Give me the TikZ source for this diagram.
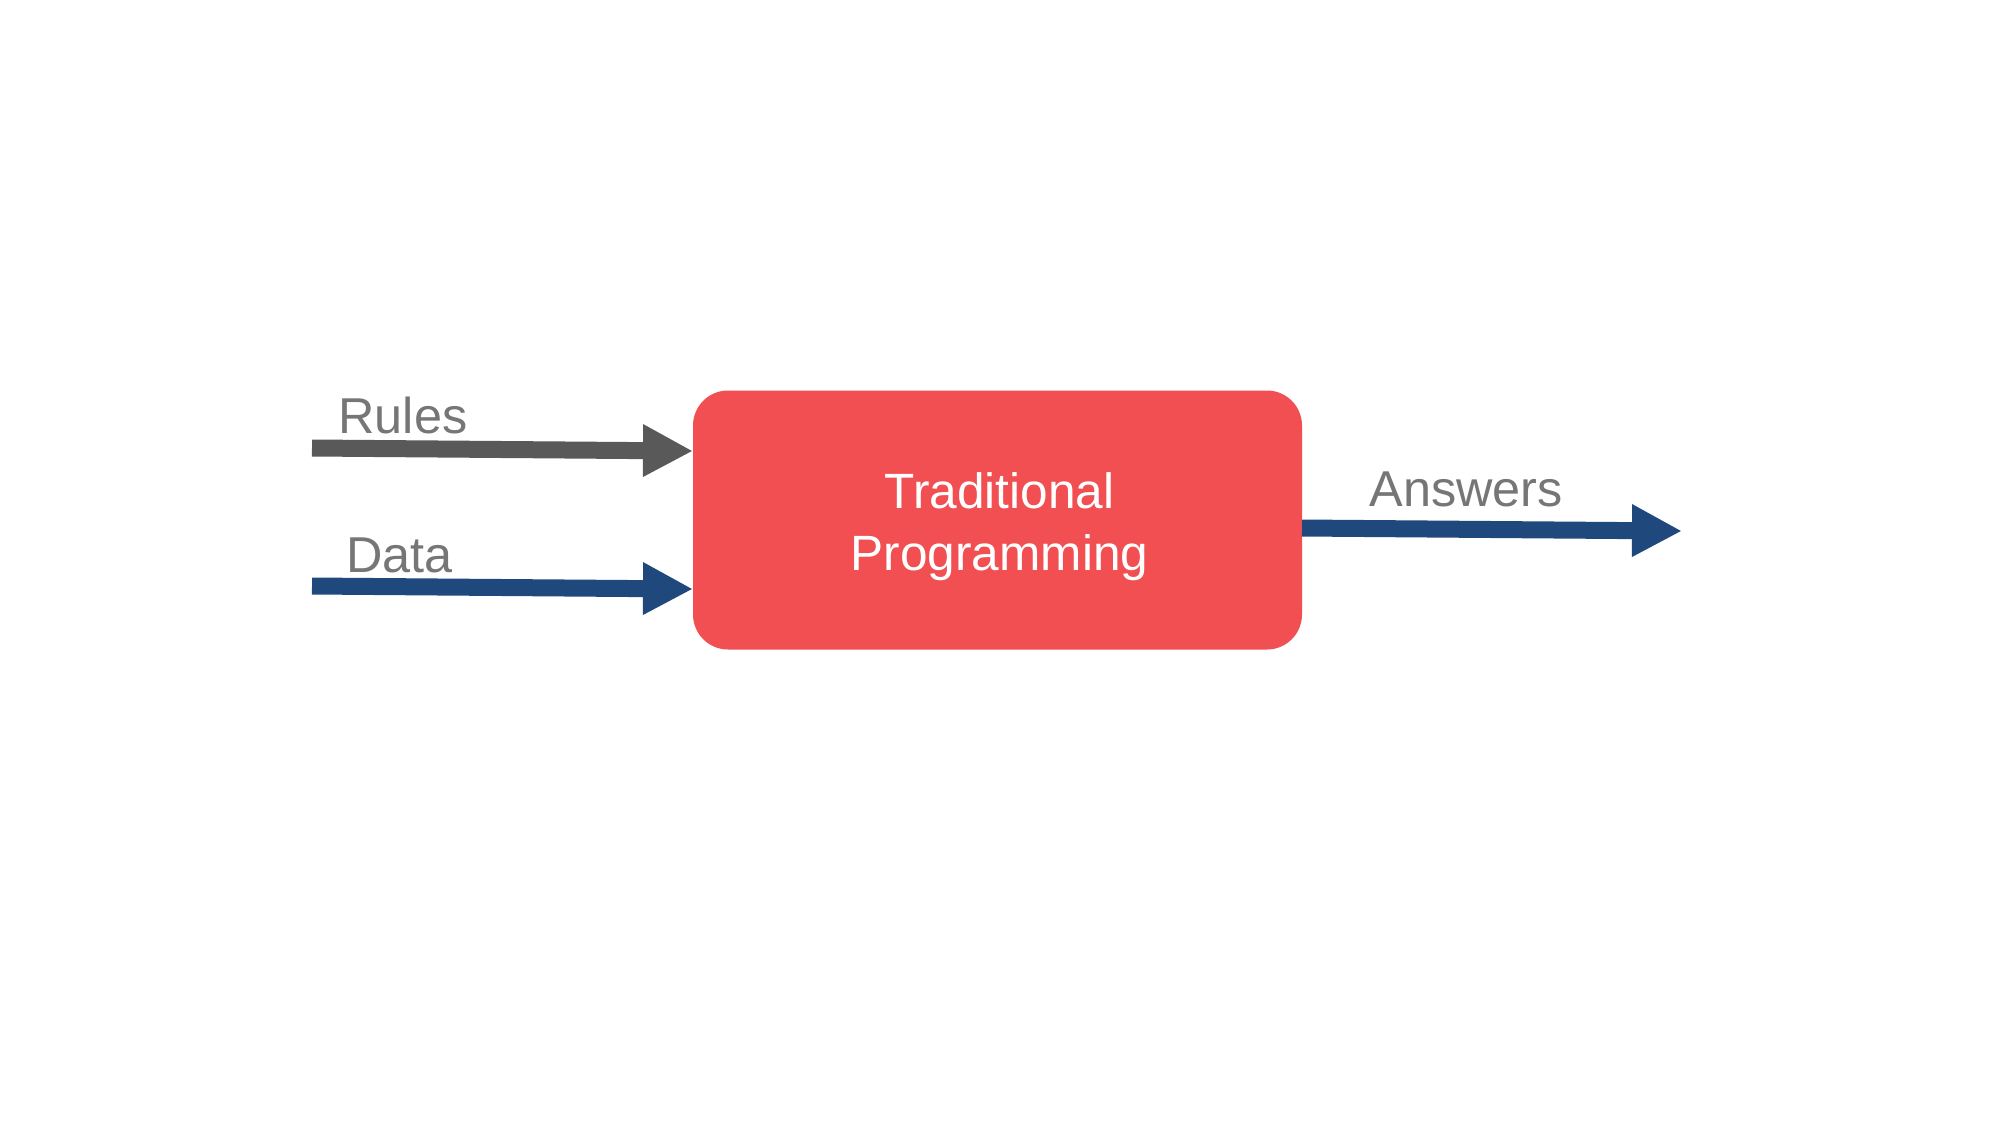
\documentclass[tikz,border=0pt]{standalone}
\usepackage{fontspec}
\setmainfont{Liberation Sans}
\usetikzlibrary{arrows.meta}
\definecolor{boxred}{HTML}{F14F51}
\definecolor{rulegray}{HTML}{595959}
\definecolor{dblue}{HTML}{1F497D}
\definecolor{labgray}{HTML}{767676}
\tikzset{
  conn/.style={line width=8.5pt, line cap=butt, -{Triangle[length=25pt,width=24.5pt]}},
  lab/.style={anchor=base west, inner sep=0pt, text=labgray, font=\fontsize{25.2pt}{30pt}\selectfont},
  procbox/.style={fill=boxred, draw=none, rounded corners=17.5pt, minimum width=304.5pt, minimum height=129.5pt, inner sep=0pt},
  proctext/.style={text=white, align=center, inner sep=0pt, font=\fontsize{24.8pt}{31pt}\selectfont}
}
\begin{document}
\begin{tikzpicture}[x=0.5pt,y=-0.5pt]
\fill[white] (0,0) rectangle (2000,1125);
\useasboundingbox (0,0) rectangle (2000,1125);
\node[procbox] (tp) at (997.5,520) {};
\node[proctext] (tptext) at (999.5,527) {Traditional\\Programming};
\coordinate (rs) at (312,448);
\coordinate (re) at (693,451);
\coordinate (ds) at (312,586);
\coordinate (de) at (693,589);
\coordinate (as) at (1302,528);
\coordinate (ae) at (1682,531);
\draw[conn, rulegray] (rs) -- (re);
\draw[conn, dblue] (ds) -- (de);
\draw[conn, dblue] (as) -- (ae);
\node[lab] (rules) at (338,433.3) {Rules};
\node[lab] (data) at (346,572.3) {Data};
\node[lab] (answers) at (1369,506) {Answers};
\end{tikzpicture}
\end{document}
